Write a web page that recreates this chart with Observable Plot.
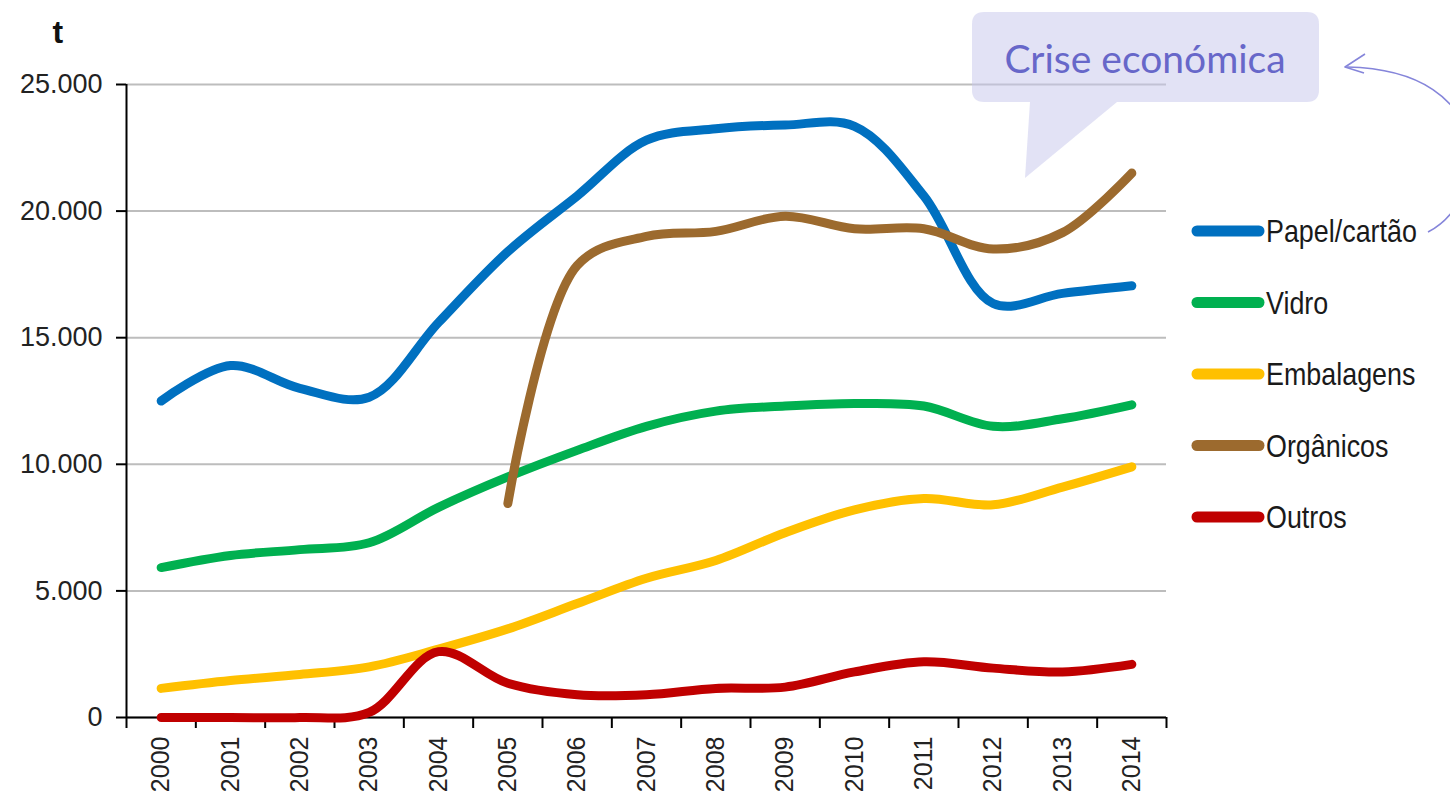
<!DOCTYPE html>
<html>
<head>
<meta charset="utf-8">
<script src="https://cdn.jsdelivr.net/npm/d3@7"></script>
<script src="https://cdn.jsdelivr.net/npm/@observablehq/plot@0.6"></script>
<style>
  html, body { margin: 0; padding: 0; background: #fff; }
  #wrap { position: relative; width: 1450px; height: 797px; overflow: hidden; font-family: "Liberation Sans", Arial, sans-serif; }
  #wrap > svg { position: absolute; left: 0; top: 0; }
</style>
</head>
<body>
<div id="wrap"></div>
<script>
// ---- data ----
const years = [2000, 2001, 2002, 2003, 2004, 2005, 2006, 2007, 2008, 2009, 2010, 2011, 2012, 2013, 2014];
const seriesNames = ["Papel/cartão", "Vidro", "Embalagens", "Orgânicos", "Outros"];
const seriesColors = ["#0070C0", "#00B050", "#FFC000", "#9C6A2E", "#C00000"];
const papel      = [12500, 13900, 13000, 12650, 15600, 18400, 20600, 22800, 23250, 23400, 23350, 20600, 16350, 16750, 17050];
const vidro      = [5920, 6400, 6630, 6900, 8300, 9500, 10550, 11500, 12100, 12300, 12400, 12300, 11500, 11800, 12350];
const embalagens = [1150, 1460, 1700, 2000, 2700, 3500, 4500, 5500, 6200, 7300, 8200, 8650, 8400, 9100, 9900];
const organicos  = [null, null, null, null, null, 8450, 17850, 19000, 19200, 19800, 19300, 19300, 18500, 19150, 21500];
const outros     = [0, 0, 0, 200, 2600, 1350, 900, 900, 1150, 1200, 1800, 2200, 1950, 1800, 2100];
const yTicks = [0, 5000, 10000, 15000, 20000, 25000];
const yUnit = "t";
const calloutText = "Crise económica";

const seriesValues = [papel, vidro, embalagens, organicos, outros];
const rows = seriesNames.flatMap((name, i) =>
  years.map((year, j) => ({ series: name, year, value: seriesValues[i][j] }))
       .filter(d => d.value != null));
const boundaries = [...years.map(y => y - 0.5), years[years.length - 1] + 0.5];
const fmt = d => d3.format(",")(d).replace(/,/g, ".");

const chart = Plot.plot({
  width: 1450,
  height: 797,
  marginLeft: 126,
  marginRight: 284,
  marginTop: 84,
  marginBottom: 80,
  style: { background: "transparent", fontFamily: "Liberation Sans, Arial, sans-serif", color: "#222" },
  x: { domain: [boundaries[0], boundaries[boundaries.length - 1]], axis: null },
  y: { domain: [0, 25000], axis: null },
  color: { domain: seriesNames, range: seriesColors },
  marks: [
    Plot.gridY(yTicks, { stroke: "#BDBDBD", strokeOpacity: 1, strokeWidth: 2 }),
    Plot.axisY({ ticks: yTicks, tickSize: 10, tickPadding: 14, tickFormat: fmt, fontSize: 27, label: null, stroke: "#000", strokeWidth: 2 }),
    Plot.axisX({ ticks: boundaries, tickSize: 11, tickFormat: () => "", label: null, stroke: "#000", strokeWidth: 2 }),
    Plot.ruleX([boundaries[0]], { stroke: "#000", strokeWidth: 2 }),
    Plot.ruleY([0], { stroke: "#000", strokeWidth: 2 }),
    Plot.text(years, { x: d => d, y: 0, text: d => String(d), rotate: -90, textAnchor: "end", lineAnchor: "middle", dy: 19, fontSize: 25, fill: "#222" }),
    Plot.line(rows, { x: "year", y: "value", z: "series", stroke: "series", curve: "catmull-rom", strokeWidth: 9, strokeLinecap: "round", strokeLinejoin: "round" }),
    Plot.text([yUnit], { frameAnchor: "top-left", dx: -74, dy: -64, fontSize: 32, fontWeight: "bold", fill: "#111" })
  ]
});
const wrap = document.getElementById("wrap");
wrap.appendChild(chart);

// ---- overlay: legend, callout bubble, arrow ----
const ns = "http://www.w3.org/2000/svg";
const ov = d3.select(wrap).append("svg")
  .attr("xmlns", ns).attr("width", 1450).attr("height", 797)
  .style("position", "absolute").style("left", 0).style("top", 0);

// legend
const lg = ov.append("g");
seriesNames.forEach((name, i) => {
  const y = 231 + i * 71.5;
  lg.append("line").attr("x1", 1197).attr("x2", 1259).attr("y1", y).attr("y2", y)
    .attr("stroke", seriesColors[i]).attr("stroke-width", 11).attr("stroke-linecap", "round");
  lg.append("text").attr("transform", `translate(1266,${y + 11}) scale(0.84,1)`).text(name)
    .attr("font-family", "'Liberation Sans', Arial, sans-serif")
    .attr("font-size", 32).attr("fill", "#1a1a1a");
});

// callout bubble
ov.append("path")
  .attr("d", "M 984 12 H 1307 Q 1319 12 1319 24 V 90 Q 1319 102 1307 102 H 1117 L 1025 178 L 1030 102 H 984 Q 972 102 972 90 V 24 Q 972 12 984 12 Z")
  .attr("fill", "rgb(200,200,236)").attr("fill-opacity", 0.52);
ov.append("text").attr("x", 1145).attr("y", 73).attr("text-anchor", "middle")
  .attr("font-family", "Lato, 'Open Sans', sans-serif").attr("font-size", 39)
  .attr("fill", "#6767C9").text(calloutText);

// curved arrow
ov.append("path")
  .attr("d", "M 1428 232 C 1490 200, 1500 70, 1347 67")
  .attr("fill", "none").attr("stroke", "#8585DA").attr("stroke-width", 1.6);
ov.append("path")
  .attr("d", "M 1365 54 L 1345 67 L 1364 73")
  .attr("fill", "none").attr("stroke", "#8585DA").attr("stroke-width", 1.6).attr("stroke-linejoin", "round");
</script>
</body>
</html>
